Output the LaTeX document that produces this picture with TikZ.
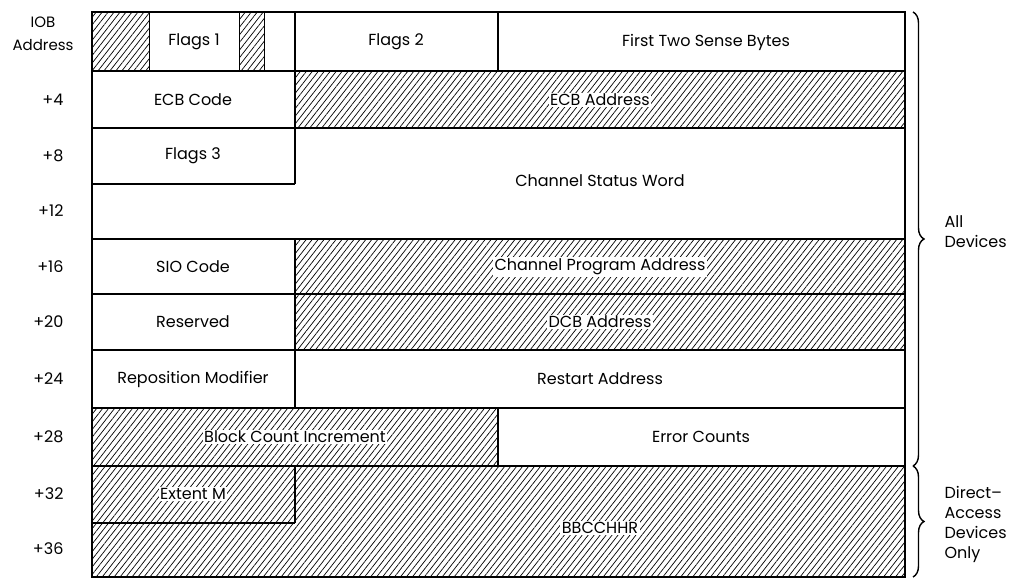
\documentclass[tikz,border=0pt]{standalone}
\usepackage{fontspec}
\setmainfont{Poppins}
\usetikzlibrary{positioning, patterns.meta, decorations.pathreplacing}

\begin{document}
\begin{tikzpicture}[x=1pt, y=-1pt,
		hatch/.style = {pattern={Lines[angle=52, distance=4.7pt, line width=0.7pt]}},
		wall/.style = {line width=1.4pt},
		thin/.style = {line width=1pt},
		fld/.style = {font=\fontsize{16}{20}\selectfont, inner sep=1.5pt},
		hfld/.style = {fld, fill=white},
		offs/.style = {anchor=east, font=\fontsize{16}{20}\selectfont},
		brc/.style = {decorate, decoration={brace, amplitude=11pt}, line width=1.4pt},
		note/.style = {anchor=west, align=left, font=\fontsize{16}{20}\selectfont}
                    ]
		\useasboundingbox (0,0) rectangle (1010,578);

		% hatched areas
		\fill[hatch] (92,12) rectangle (149,71);
		\fill[hatch] (239,12) rectangle (264,71);
		\fill[hatch] (295,71) rectangle (905,128);
		\fill[hatch] (295,239) rectangle (905,350);
		\fill[hatch] (92,408) rectangle (498,466);
		\fill[hatch] (92,466) rectangle (905,577);

		% ruling
		\draw[wall] (92,12) rectangle (905,577);
		\draw[wall] (92,71) -- (905,71) (92,128) -- (905,128) (92,184) -- (295,184)
			(92,239) -- (905,239) (92,294) -- (905,294) (92,350) -- (905,350)
			(92,408) -- (905,408) (92,466) -- (905,466) (92,523) -- (295,523);
		\draw[wall] (295,12) -- (295,184) (295,239) -- (295,408) (295,466) -- (295,523)
			(498,12) -- (498,71) (498,408) -- (498,466);
		\draw[thin] (149,12) -- (149,71) (239,12) -- (239,71) (264,12) -- (264,71);

		% fields
		\node(flagsa) [fld] at (194,42) {Flags 1};
		\node(flagsb) [fld] at (396,42) {Flags 2};
		\node(sense) [fld] at (706,42) {First Two Sense Bytes};
		\node(ecbcode) [fld] at (193,100) {ECB Code};
		\node(ecbaddr) [hfld] at (600,100) {ECB Address};
		\node(flagsc) [fld] at (193,156) {Flags 3};
		\node(csw) [fld] at (600,181) {Channel Status Word};
		\node(sio) [fld] at (193,267) {SIO Code};
		\node(cpa) [hfld] at (600,267) {Channel Program Address};
		\node(resv) [fld] at (193,322) {Reserved};
		\node(dcb) [hfld] at (600,322) {DCB Address};
		\node(repos) [fld] at (193,379) {Reposition Modifier};
		\node(restart) [fld] at (600,379) {Restart Address};
		\node(blkinc) [hfld] at (295,437) {Block Count Increment};
		\node(errs) [fld] at (701,437) {Error Counts};
		\node(extm) [hfld] at (193,494) {Extent M};
		\node(bbcc) [hfld] at (600,528) {BBCCHHR};

		% offsets
		\node(iob) [fld, align=center, font=\fontsize{15}{23}\selectfont] at (43,34) {IOB\\Address};
		\node(o4) [offs] at (67,100) {+4};
		\node(o8) [offs] at (67,156) {+8};
		\node(o12) [offs] at (67,211) {+12};
		\node(o16) [offs] at (67,267) {+16};
		\node(o20) [offs] at (67,322) {+20};
		\node(o24) [offs] at (67,379) {+24};
		\node(o28) [offs] at (67,437) {+28};
		\node(o32) [offs] at (67,494) {+32};
		\node(o36) [offs] at (67,549) {+36};

		% device groups
		\coordinate(alltop) at (913,12);
		\coordinate(allbot) at (913,466);
		\coordinate(dabot) at (913,577);
		\draw[brc] (alltop) -- (allbot);
		\draw[brc] (allbot) -- (dabot);
		\node(alldev) [note] at (941,232) {All\\Devices};
		\node(dadev) [note] at (941,524) {Direct--\\Access\\Devices\\Only};
	\end{tikzpicture}
\end{document}
